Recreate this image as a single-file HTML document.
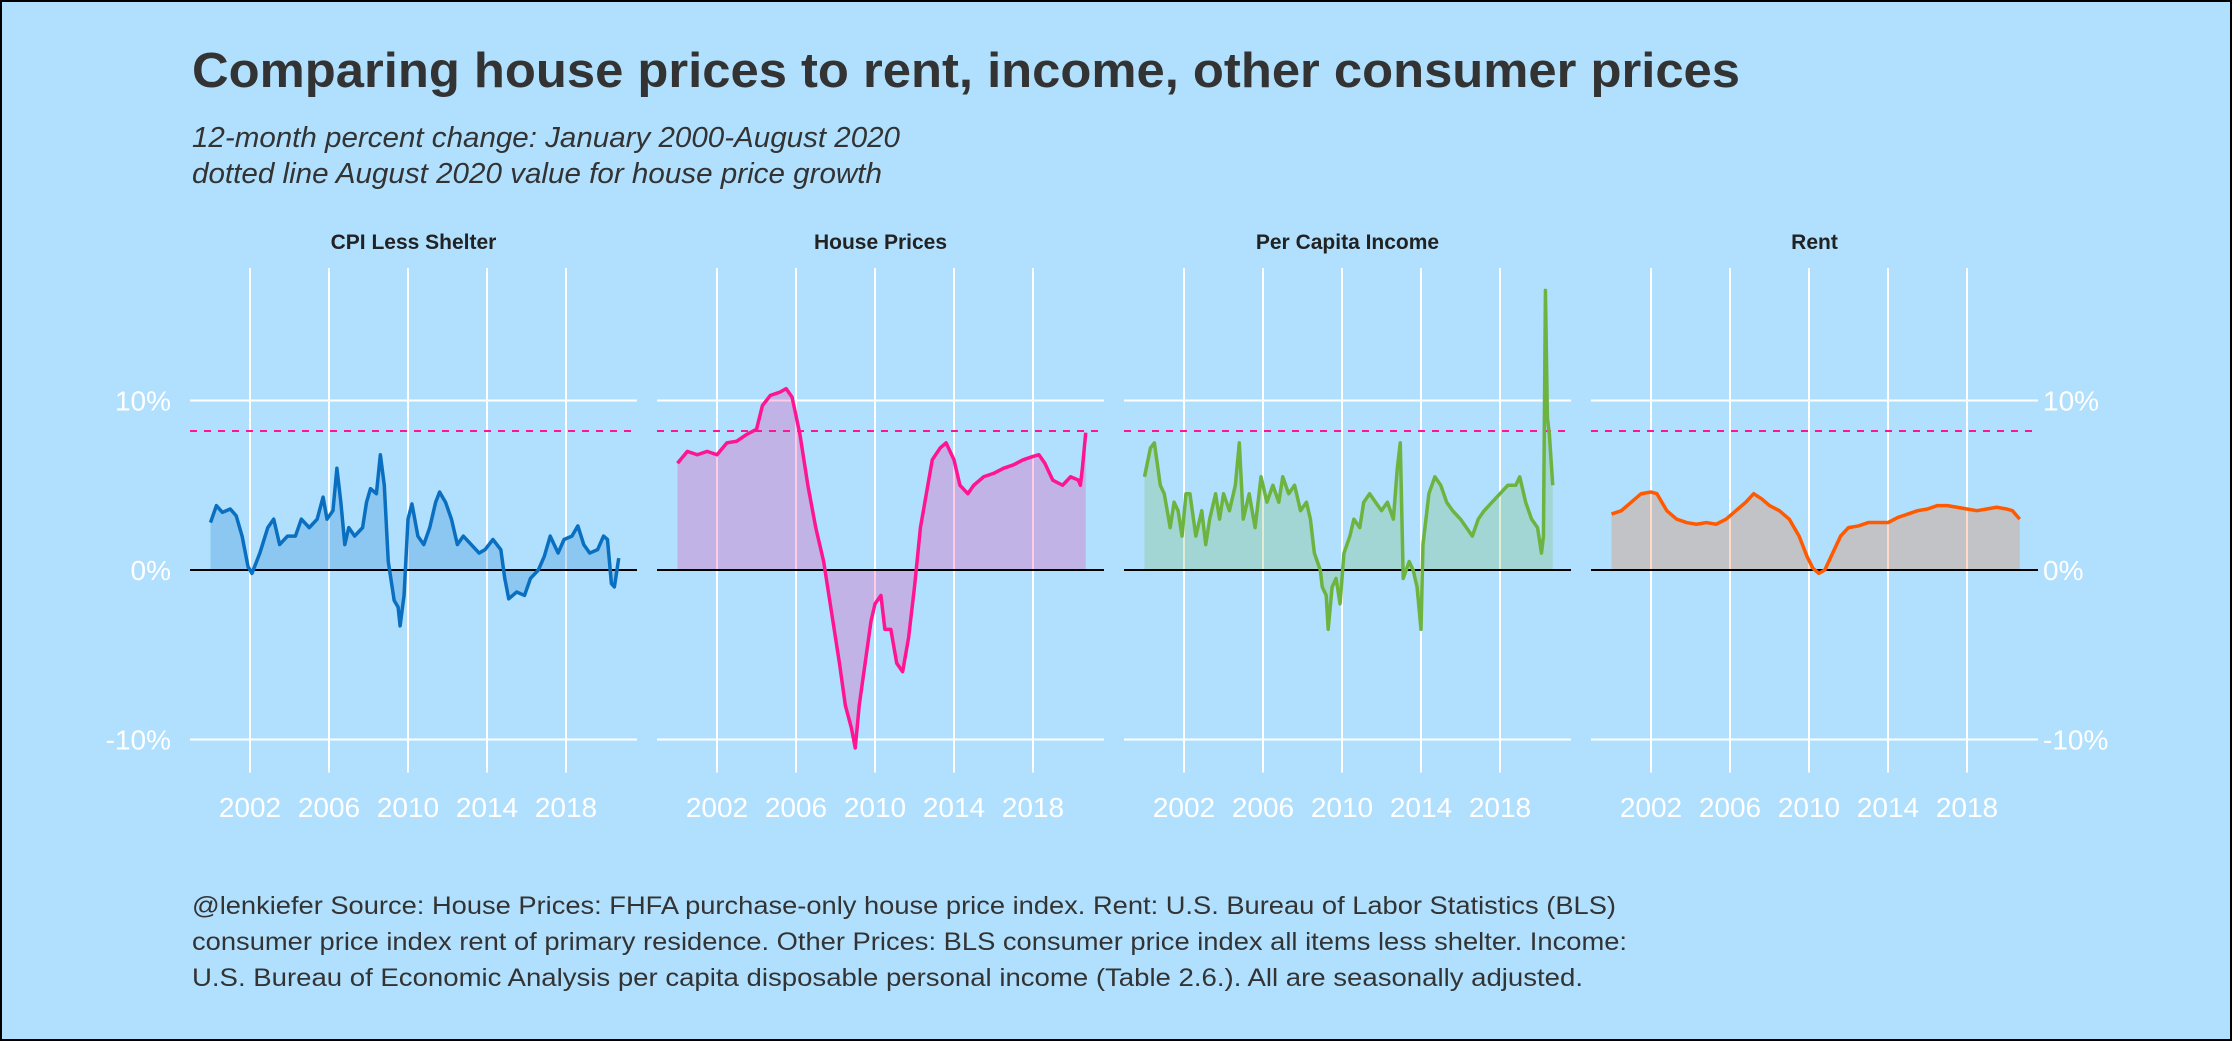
<!DOCTYPE html>
<html><head><meta charset="utf-8"><style>
html,body{margin:0;padding:0;background:#b0e0fe;}
svg{display:block;font-family:"Liberation Sans",sans-serif;}
</style></head><body>
<svg id="chart" width="2232" height="1041" viewBox="0 0 2232 1041" xmlns="http://www.w3.org/2000/svg">
<rect x="1" y="1" width="2230" height="1039" fill="#b0e0fe" stroke="#000" stroke-width="2"/>
<text x="192" y="87" font-size="49" font-weight="bold" fill="#333" textLength="1548" lengthAdjust="spacingAndGlyphs">Comparing house prices to rent, income, other consumer prices</text>
<text x="192" y="147" font-size="29" font-style="italic" fill="#333" textLength="708" lengthAdjust="spacingAndGlyphs">12-month percent change: January 2000-August 2020</text>
<text x="192" y="183" font-size="29" font-style="italic" fill="#333" textLength="690" lengthAdjust="spacingAndGlyphs">dotted line August 2020 value for house price growth</text>
<g id="panels"></g>
<text x="192" y="914" font-size="25" fill="#333" textLength="1424" lengthAdjust="spacingAndGlyphs">@lenkiefer Source: House Prices: FHFA purchase-only house price index. Rent: U.S. Bureau of Labor Statistics (BLS)</text>
<text x="192" y="950" font-size="25" fill="#333" textLength="1435" lengthAdjust="spacingAndGlyphs">consumer price index rent of primary residence. Other Prices: BLS consumer price index all items less shelter. Income:</text>
<text x="192" y="986" font-size="25" fill="#333" textLength="1391" lengthAdjust="spacingAndGlyphs">U.S. Bureau of Economic Analysis per capita disposable personal income (Table 2.6.). All are seasonally adjusted.</text>
</svg>
<script>
const panelTitles=["CPI Less Shelter","House Prices","Per Capita Income","Rent"];
const yTicks=[-10,0,10];
const yTickLabels=["-10%","0%","10%"];
const xTicks=[2002,2006,2010,2014,2018];
const refValue=8.2;
const cpiX=[2000.0,2000.3,2000.6,2001.0,2001.3,2001.6,2001.9,2002.1,2002.5,2002.9,2003.2,2003.5,2003.9,2004.3,2004.6,2005.0,2005.4,2005.7,2005.9,2006.2,2006.4,2006.6,2006.8,2007.0,2007.3,2007.7,2007.9,2008.1,2008.4,2008.6,2008.8,2009.0,2009.3,2009.5,2009.6,2009.8,2010.0,2010.2,2010.5,2010.8,2011.1,2011.4,2011.6,2011.9,2012.2,2012.5,2012.8,2013.2,2013.6,2013.9,2014.3,2014.7,2014.9,2015.1,2015.5,2015.9,2016.2,2016.6,2016.9,2017.2,2017.6,2017.9,2018.3,2018.6,2018.9,2019.2,2019.6,2019.9,2020.1,2020.3,2020.45,2020.67];
const cpiY=[2.8,3.8,3.4,3.6,3.2,2.0,0.2,-0.2,1.0,2.5,3.0,1.5,2.0,2.0,3.0,2.5,3.0,4.3,3.0,3.5,6.0,4.0,1.5,2.5,2.0,2.5,4.0,4.8,4.5,6.8,5.0,0.5,-1.8,-2.2,-3.3,-1.5,3.0,3.9,2.0,1.5,2.5,4.0,4.6,4.0,3.0,1.5,2.0,1.5,1.0,1.2,1.8,1.2,-0.5,-1.7,-1.3,-1.5,-0.5,0.0,0.8,2.0,1.0,1.8,2.0,2.6,1.5,1.0,1.2,2.0,1.8,-0.8,-1.0,0.7];
const hpX=[2000.0,2000.5,2001.0,2001.5,2002.0,2002.5,2003.0,2003.5,2004.0,2004.3,2004.7,2005.2,2005.5,2005.8,2006.2,2006.6,2007.0,2007.4,2007.8,2008.2,2008.5,2008.8,2009.0,2009.2,2009.5,2009.8,2010.0,2010.3,2010.5,2010.8,2011.1,2011.4,2011.7,2012.0,2012.3,2012.6,2012.9,2013.3,2013.6,2014.0,2014.3,2014.7,2015.0,2015.5,2016.0,2016.5,2017.0,2017.5,2018.0,2018.3,2018.6,2019.0,2019.5,2019.9,2020.3,2020.4,2020.5,2020.67];
const hpY=[6.3,7.0,6.8,7.0,6.8,7.5,7.6,8.0,8.3,9.7,10.3,10.5,10.7,10.2,8.0,5.0,2.5,0.5,-2.5,-5.5,-8.0,-9.3,-10.5,-8.0,-5.5,-3.0,-2.0,-1.5,-3.5,-3.5,-5.5,-6.0,-4.0,-1.0,2.5,4.5,6.5,7.2,7.5,6.5,5.0,4.5,5.0,5.5,5.7,6.0,6.2,6.5,6.7,6.8,6.3,5.3,5.0,5.5,5.3,5.0,6.0,8.1];
const incX=[2000.0,2000.3,2000.5,2000.8,2001.0,2001.3,2001.5,2001.7,2001.9,2002.1,2002.3,2002.6,2002.9,2003.1,2003.3,2003.6,2003.8,2004.0,2004.3,2004.6,2004.8,2005.0,2005.3,2005.6,2005.9,2006.2,2006.5,2006.8,2007.0,2007.3,2007.6,2007.9,2008.2,2008.4,2008.6,2008.9,2009.0,2009.2,2009.3,2009.5,2009.7,2009.9,2010.1,2010.4,2010.6,2010.9,2011.1,2011.4,2011.7,2012.0,2012.3,2012.6,2012.8,2012.95,2013.1,2013.4,2013.6,2013.8,2014.0,2014.1,2014.4,2014.7,2015.0,2015.3,2015.6,2016.0,2016.3,2016.6,2016.9,2017.2,2017.6,2018.0,2018.4,2018.8,2019.0,2019.3,2019.6,2019.9,2020.1,2020.2,2020.3,2020.4,2020.5,2020.67];
const incY=[5.5,7.2,7.5,5.0,4.5,2.5,4.0,3.5,2.0,4.5,4.5,2.0,3.5,1.5,3.0,4.5,3.0,4.5,3.5,5.0,7.5,3.0,4.5,2.5,5.5,4.0,5.0,4.0,5.5,4.5,5.0,3.5,4.0,3.0,1.0,0.0,-1.0,-1.5,-3.5,-1.0,-0.5,-2.0,1.0,2.0,3.0,2.5,4.0,4.5,4.0,3.5,4.0,3.0,6.0,7.5,-0.5,0.5,0.0,-1.0,-3.5,1.5,4.5,5.5,5.0,4.0,3.5,3.0,2.5,2.0,3.0,3.5,4.0,4.5,5.0,5.0,5.5,4.0,3.0,2.5,1.0,2.0,16.5,9.0,8.0,5.0];
const rentX=[2000.0,2000.5,2001.0,2001.5,2002.0,2002.3,2002.8,2003.3,2003.8,2004.3,2004.8,2005.3,2005.8,2006.3,2006.8,2007.2,2007.6,2008.0,2008.5,2009.0,2009.5,2009.9,2010.2,2010.5,2010.8,2011.2,2011.6,2012.0,2012.5,2013.0,2013.5,2014.0,2014.5,2015.0,2015.5,2016.0,2016.5,2017.0,2017.5,2018.0,2018.5,2019.0,2019.5,2020.0,2020.3,2020.67];
const rentY=[3.3,3.5,4.0,4.5,4.6,4.5,3.5,3.0,2.8,2.7,2.8,2.7,3.0,3.5,4.0,4.5,4.2,3.8,3.5,3.0,2.0,0.8,0.1,-0.2,0.0,1.0,2.0,2.5,2.6,2.8,2.8,2.8,3.1,3.3,3.5,3.6,3.8,3.8,3.7,3.6,3.5,3.6,3.7,3.6,3.5,3.0];
const seriesX=[cpiX,hpX,incX,rentX];
const seriesY=[cpiY,hpY,incY,rentY];
const colors=["#0a6fc0","#ff1493","#6db33f","#ff5a00"];
const NS="http://www.w3.org/2000/svg";
const g=document.getElementById("panels");
const panelW=447,panelStep=467,panel0=190;
const y=v=>570-v*16.95;
function mk(tag,attrs,parent){const e=document.createElementNS(NS,tag);for(const k in attrs)e.setAttribute(k,attrs[k]);parent.appendChild(e);return e;}
for(let p=0;p<4;p++){
  const left=panel0+p*panelStep,right=left+panelW;
  const x=t=>left+20.5+(t-2000)*19.75;
  const pg=mk("g",{},g);
  
  
  for(const t of yTicks){const l=mk("line",{x1:left,x2:right,y1:y(t),y2:y(t),stroke:"#fff","stroke-width":2},pg);
    }
  for(const t of xTicks){const l=mk("line",{x1:x(t),x2:x(t),y1:y(12.5)-90,y2:y(-10)+33,stroke:"#fff","stroke-width":2},pg);
    
    const tx=mk("text",{x:x(t),y:817,"font-size":28,fill:"#fff","text-anchor":"middle"},pg);tx.textContent=t;
    }
  const st=mk("text",{x:(left+right)/2,y:249,"font-size":21,"font-weight":"bold",fill:"#222","text-anchor":"middle"},pg);st.textContent=panelTitles[p];
  
  const xs=seriesX[p],ys=seriesY[p];
  let d="M"+x(xs[0])+","+y(0);let ld="";
  for(let i=0;i<xs.length;i++){d+="L"+x(xs[i])+","+y(ys[i]);ld+=(i?"L":"M")+x(xs[i])+","+y(ys[i]);}
  d+="L"+x(xs[xs.length-1])+","+y(0)+"Z";
  const area=mk("path",{d:d,fill:colors[p],"fill-opacity":0.22},pg);
  
  const zl=mk("line",{x1:left,x2:right,y1:y(0),y2:y(0),stroke:"#000","stroke-width":2},pg);
  
  const dl=mk("line",{x1:left,x2:right,y1:y(refValue),y2:y(refValue),stroke:"#ff1493","stroke-width":2,"stroke-dasharray":"7,7"},pg);
  
  const line=mk("path",{d:ld,fill:"none",stroke:colors[p],"stroke-width":3.5,"stroke-linejoin":"round"},pg);
  
}
for(let i=0;i<yTicks.length;i++){
  const a=mk("text",{x:171,y:y(yTicks[i])+10,"font-size":28,fill:"#fff","text-anchor":"end"},g);a.textContent=yTickLabels[i];
  
  const b=mk("text",{x:2043,y:y(yTicks[i])+10,"font-size":28,fill:"#fff","text-anchor":"start"},g);b.textContent=yTickLabels[i];
  
}
</script>
</body></html>
